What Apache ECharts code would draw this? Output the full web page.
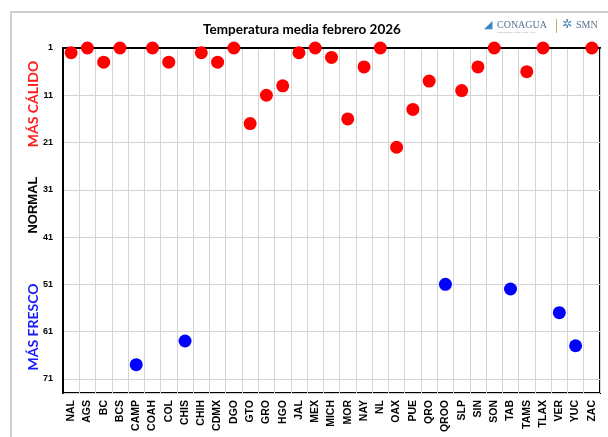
<!DOCTYPE html>
<html>
<head>
<meta charset="utf-8">
<script src="https://cdn.jsdelivr.net/npm/echarts@6/dist/echarts.min.js"></script>
<style>
  html, body { margin: 0; padding: 0; background: #fff; }
  #chart { width: 608px; height: 437px; }
</style>
</head>
<body>
<div id="chart"></div>
<script>
const states = ['NAL', 'AGS', 'BC', 'BCS', 'CAMP', 'COAH', 'COL', 'CHIS', 'CHIH', 'CDMX', 'DGO',
  'GTO', 'GRO', 'HGO', 'JAL', 'MEX', 'MICH', 'MOR', 'NAY', 'NL', 'OAX', 'PUE', 'QRO', 'QROO',
  'SLP', 'SIN', 'SON', 'TAB', 'TAMS', 'TLAX', 'VER', 'YUC', 'ZAC'];
// rank 1 = warmest; null where the state belongs to the other group
const warmRank = [2, 1, 4, 1, null, 1, 4, null, 2, 4, 1,
  17, 11, 9, 2, 1, 3, 16, 5, 1, 22, 14, 8, null,
  10, 5, 1, null, 6, 1, null, null, 1];
const coolRank = [null, null, null, null, 68, null, null, 63, null, null, null,
  null, null, null, null, null, null, null, null, null, null, null, null, 51,
  null, null, null, 52, null, null, 57, 64, null];
const rankTicks = [1, 11, 21, 31, 41, 51, 61, 71];

const el = document.getElementById('chart');
const chart = echarts.init(el);

// axis runs on rank-1 so that the 1, 11, 21... ticks land on multiples of 10
const toAxis = arr => arr.map(v => (v == null ? null : v - 1));

const sideLabel = (text, color, y, font) => ({
  type: 'text',
  x: 33, y: y,
  rotation: Math.PI / 2,
  style: {
    text: text, fill: color, font: font,
    align: 'center', verticalAlign: 'middle'
  }
});

chart.setOption({
  animation: false,
  title: {
    text: 'Temperatura media febrero 2026',
    left: 297, top: 18, textAlign: 'center',
    textStyle: { fontFamily: 'Lato', fontWeight: 'bold', fontSize: 13.5, color: '#000' }
  },
  grid: { left: 63, right: 8, top: 48, bottom: 44, show: true, borderColor: '#000', borderWidth: 2 },
  xAxis: {
    type: 'category',
    data: states,
    axisLine: { lineStyle: { color: '#000', width: 2 } },
    axisTick: { show: false },
    splitLine: { show: true, interval: 0, lineStyle: { color: '#d4d4d4', width: 1 } },
    axisLabel: {
      interval: 0, rotate: 90, margin: 7,
      color: '#000', fontFamily: 'Liberation Sans', fontWeight: 'bold', fontSize: 10.5
    }
  },
  yAxis: {
    type: 'value',
    inverse: true,
    min: 0, max: 73, interval: 10,
    axisLine: { show: true, lineStyle: { color: '#000', width: 2 } },
    axisTick: { show: false },
    splitLine: { lineStyle: { color: '#d4d4d4', width: 1 } },
    axisLabel: {
      margin: 10, color: '#000', fontFamily: 'Liberation Sans', fontWeight: 'bold', fontSize: 9,
      formatter: v => (rankTicks.includes(v + 1) ? String(v + 1) : '')
    }
  },
  series: [
    {
      type: 'scatter', data: toAxis(warmRank), symbolSize: 13,
      itemStyle: { color: '#ff0000', opacity: 1 }, z: 5
    },
    {
      type: 'scatter', data: toAxis(coolRank), symbolSize: 13,
      itemStyle: { color: '#0000ff', opacity: 1 }, z: 5
    }
  ],
  graphic: [
    {
      type: 'rect', silent: true,
      shape: { x: 11, y: 12, width: 640, height: 460 },
      style: { fill: 'none', stroke: '#cfcfcf', lineWidth: 2 }
    },
    sideLabel('MÁS CÁLIDO', '#ff1a1a', 104, 'bold 14px Lato'),
    sideLabel('NORMAL', '#000', 205, 'bold 13px "Liberation Sans"'),
    sideLabel('MÁS FRESCO', '#1a1aff', 327, 'bold 14px Lato'),
    // logos
    {
      type: 'text', x: 484, y: 20,
      style: { text: '◢', fill: '#3a86c8', font: 'bold 11px "DejaVu Sans"' }
    },
    {
      type: 'text', x: 497, y: 20,
      style: { text: 'CONAGUA', fill: '#5b6f8e', font: '10px "Liberation Serif"' }
    },
    {
      type: 'text', x: 497, y: 31,
      style: { text: 'COMISIÓN NACIONAL DEL AGUA', fill: '#9aa3b2', font: '2.5px "Liberation Sans"' }
    },
    {
      type: 'rect', shape: { x: 556, y: 19, width: 1, height: 14 },
      style: { fill: '#c8a97a' }
    },
    {
      type: 'text', x: 562, y: 19,
      style: { text: '✲', fill: '#3b87c4', font: 'bold 12px "DejaVu Sans"' }
    },
    {
      type: 'text', x: 576, y: 20,
      style: { text: 'SMN', fill: '#5b6f8e', font: '10px "Liberation Serif"' }
    }
  ]
});
</script>
</body>
</html>
